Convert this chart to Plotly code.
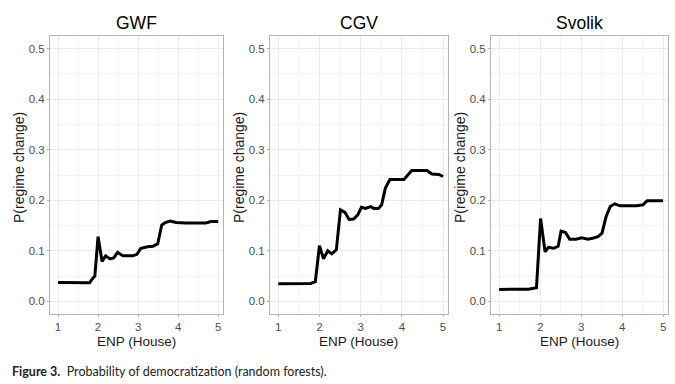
import plotly.graph_objects as go

# ---- data ----
panel_titles = ["GWF", "CGV", "Svolik"]

gwf_x = [1.0, 1.79, 1.87, 1.92, 2.0, 2.1, 2.19, 2.3, 2.39, 2.49, 2.62, 2.87, 2.97, 3.07, 3.24, 3.37, 3.49, 3.59, 3.68, 3.8, 3.95, 4.2, 4.69, 4.82, 5.0]
gwf_y = [0.0375, 0.037, 0.046, 0.05, 0.128, 0.079, 0.09, 0.084, 0.086, 0.097, 0.09, 0.09, 0.093, 0.105, 0.108, 0.109, 0.114, 0.151, 0.156, 0.159, 0.156, 0.155, 0.155, 0.158, 0.158]

cgv_x = [1.0, 1.79, 1.9, 2.0, 2.1, 2.2, 2.3, 2.41, 2.51, 2.62, 2.72, 2.83, 2.93, 3.02, 3.12, 3.24, 3.32, 3.43, 3.51, 3.6, 3.71, 3.95, 4.05, 4.24, 4.61, 4.73, 4.9, 5.0]
cgv_y = [0.035, 0.0355, 0.039, 0.11, 0.084, 0.1, 0.094, 0.102, 0.181, 0.176, 0.162, 0.163, 0.171, 0.186, 0.184, 0.1875, 0.1835, 0.1835, 0.191, 0.224, 0.241, 0.24, 0.241, 0.259, 0.259, 0.252, 0.251, 0.247]

svolik_x = [1.0, 1.71, 1.91, 2.01, 2.12, 2.2, 2.33, 2.44, 2.51, 2.62, 2.72, 2.87, 3.02, 3.16, 3.28, 3.41, 3.51, 3.61, 3.71, 3.82, 3.95, 4.36, 4.51, 4.61, 5.0]
svolik_y = [0.0237, 0.024, 0.027, 0.164, 0.098, 0.107, 0.105, 0.109, 0.139, 0.136, 0.123, 0.123, 0.126, 0.123, 0.125, 0.128, 0.135, 0.168, 0.1875, 0.193, 0.189, 0.189, 0.191, 0.199, 0.199]

x_ticks = [1, 2, 3, 4, 5]
y_ticks = [0.0, 0.1, 0.2, 0.3, 0.4, 0.5]
y_tick_labels = ["0.0", "0.1", "0.2", "0.3", "0.4", "0.5"]
x_label = "ENP (House)"
y_label = "P(regime change)"
caption_bold = "Figure 3."
caption_text = "Probability of democratization (random forests)."

series = [(gwf_x, gwf_y), (cgv_x, cgv_y), (svolik_x, svolik_y)]

# ---- layout geometry (pixels) ----
W, H = 675, 384
panels_px = [(50, 223), (270, 448), (491, 668)]
top_px, bottom_px = 36, 314
ydom = [1 - bottom_px / H, 1 - top_px / H]

fig = go.Figure()
font_family = "Liberation Sans, Arial, sans-serif"
tick_color = "#4D4D4D"
frame_color = "#B3B3B3"

for i, ((sx, sy), title) in enumerate(zip(series, panel_titles)):
    n = "" if i == 0 else str(i + 1)
    fig.add_trace(go.Scatter(x=sx, y=sy, mode="lines",
                             line=dict(color="black", width=3),
                             xaxis="x" + n, yaxis="y" + n, showlegend=False,
                             hoverinfo="skip"))
    x0, x1 = panels_px[i]
    common = dict(showline=True, mirror=True, linecolor=frame_color, linewidth=1,
                  ticks="outside", ticklen=2, tickcolor=frame_color,
                  tickfont=dict(family=font_family, size=11.5, color=tick_color),
                  showgrid=True, gridcolor="#EBEBEB", gridwidth=1,
                  zeroline=False, fixedrange=True)
    fig.layout["xaxis" + n] = dict(
        domain=[x0 / W, x1 / W], anchor="y" + n, range=[0.8, 5.12],
        tickvals=x_ticks, ticktext=[str(t) for t in x_ticks],
        minor=dict(tickvals=[1.5, 2.5, 3.5, 4.5], showgrid=True,
                   gridcolor="#F4F4F4", gridwidth=0.6, ticks=""),
        **common)
    fig.layout["yaxis" + n] = dict(
        domain=ydom, anchor="x" + n, range=[-0.025, 0.525],
        tickvals=y_ticks, ticktext=y_tick_labels,
        minor=dict(tickvals=[0.05, 0.15, 0.25, 0.35, 0.45], showgrid=True,
                   gridcolor="#F4F4F4", gridwidth=0.6, ticks=""),
        **common)
    cx = (x0 + x1) / 2
    fig.add_annotation(x=cx / W, y=1 - 23 / H, xref="paper", yref="paper",
                       text=title, showarrow=False, xanchor="center", yanchor="middle",
                       font=dict(family=font_family, size=17.5, color="black"))
    fig.add_annotation(x=cx / W, y=1 - 341 / H, xref="paper", yref="paper",
                       text=x_label, showarrow=False, xanchor="center", yanchor="middle",
                       font=dict(family=font_family, size=13.5, color="#1A1A1A"))
    fig.add_annotation(x=(x0 - 31) / W, y=1 - 168 / H, xref="paper", yref="paper",
                       text=y_label, showarrow=False, textangle=-90,
                       xanchor="center", yanchor="middle",
                       font=dict(family=font_family, size=14, color="#1A1A1A"))

fig.add_annotation(x=10 / W, y=1 - 371 / H, xref="paper", yref="paper",
                   text="<b>" + caption_bold + "</b>  " + caption_text,
                   showarrow=False, xanchor="left", yanchor="middle",
                   font=dict(family="Lato, sans-serif", size=12.5, color="#222222"))

fig.update_layout(width=W, height=H, margin=dict(l=0, r=0, t=0, b=0),
                  paper_bgcolor="white", plot_bgcolor="white")

fig.write_html("out.html", config={"displayModeBar": False},
               post_script="document.body.style.margin='0px';document.body.style.overflow='hidden';")
